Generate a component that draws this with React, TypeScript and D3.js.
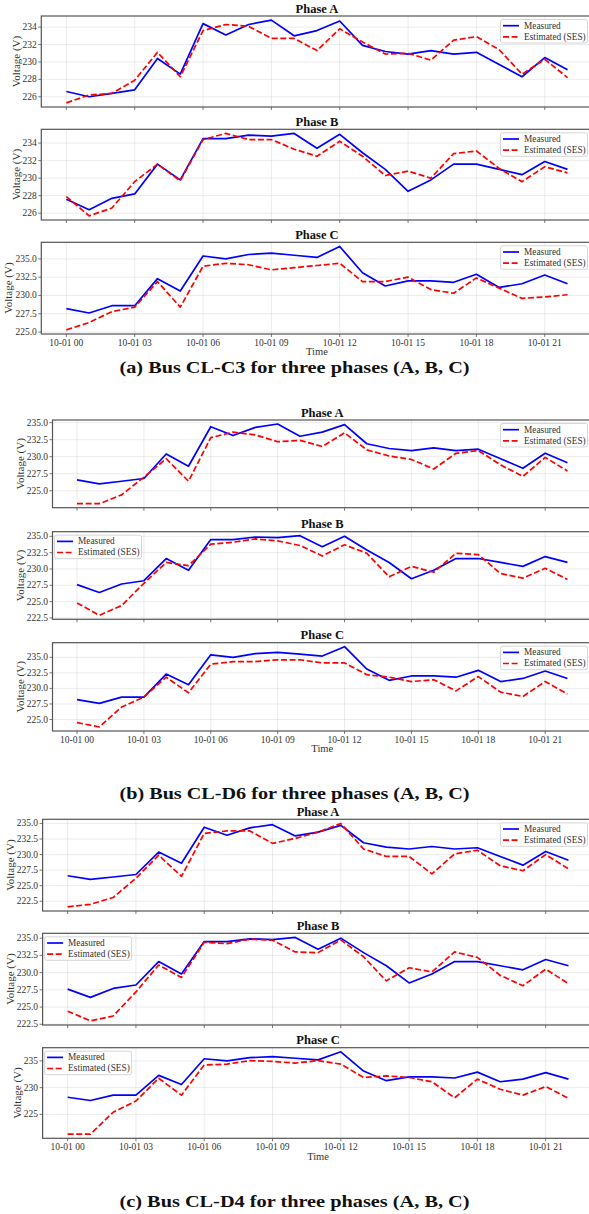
import React from 'react';
import * as d3 from 'd3';

// hourly samples on 10-01
const hours = [0, 1, 2, 3, 4, 5, 6, 7, 8, 9, 10, 11, 12, 13, 14, 15, 16, 17, 18, 19, 20, 21, 22];
const xTickHours = [0, 3, 6, 9, 12, 15, 18, 21];
const xTickLabels = ['10-01 00', '10-01 03', '10-01 06', '10-01 09', '10-01 12', '10-01 15', '10-01 18', '10-01 21'];

// measured voltage, same for all buses
const measuredA = [226.6, 226.0, 226.4, 226.8, 230.4, 228.6, 234.4, 233.1, 234.3, 234.8, 233.0, 233.6, 234.7, 231.9, 231.2, 230.9, 231.3, 230.9, 231.1, 229.7, 228.3, 230.5, 229.1];
const measuredB = [227.6, 226.4, 227.7, 228.2, 231.6, 229.8, 234.5, 234.5, 234.9, 234.8, 235.1, 233.4, 235.0, 232.9, 231.0, 228.5, 229.8, 231.6, 231.6, 231.0, 230.4, 231.9, 231.0];
const measuredC = [228.2, 227.6, 228.6, 228.6, 232.3, 230.6, 235.4, 235.0, 235.6, 235.8, 235.5, 235.2, 236.7, 233.1, 231.3, 232.0, 232.0, 231.8, 232.9, 231.1, 231.6, 232.8, 231.6];

// SES estimates per bus
const sesC3A = [225.3, 226.2, 226.4, 227.9, 231.1, 228.3, 233.6, 234.3, 234.1, 232.7, 232.7, 231.3, 233.8, 232.3, 230.9, 231.0, 230.2, 232.5, 232.9, 231.4, 228.6, 230.3, 228.2];
const sesC3B = [227.9, 225.7, 226.6, 229.6, 231.6, 229.7, 234.4, 235.1, 234.4, 234.4, 233.3, 232.5, 234.2, 232.5, 230.3, 230.8, 230.0, 232.8, 233.1, 231.1, 229.6, 231.3, 230.6];
const sesC3C = [225.3, 226.3, 227.8, 228.4, 231.9, 228.4, 234.0, 234.4, 234.2, 233.5, 233.8, 234.1, 234.4, 231.9, 231.9, 232.5, 230.8, 230.3, 232.4, 231.0, 229.6, 229.8, 230.1];

const sesD6A = [223.1, 223.1, 224.4, 227.0, 229.7, 226.4, 232.8, 233.6, 233.2, 232.2, 232.4, 231.5, 233.5, 231.0, 230.1, 229.6, 228.2, 230.5, 230.9, 228.8, 227.1, 229.9, 227.9];
const sesD6B = [224.8, 222.9, 224.4, 227.8, 231.0, 230.5, 233.8, 234.1, 234.6, 234.3, 233.6, 232.0, 233.7, 232.4, 228.8, 230.4, 229.5, 232.4, 232.2, 229.3, 228.6, 230.1, 228.4];
const sesD6C = [224.5, 223.8, 227.0, 228.6, 231.8, 229.3, 233.9, 234.3, 234.3, 234.6, 234.6, 234.1, 234.1, 232.2, 231.8, 231.1, 231.4, 229.6, 231.9, 229.4, 228.7, 231.1, 229.1];

const sesD4A = [221.6, 222.0, 223.1, 226.2, 229.9, 226.5, 233.4, 233.8, 233.8, 231.8, 232.6, 233.6, 235.0, 230.9, 229.7, 229.7, 226.9, 230.1, 230.7, 228.2, 227.4, 230.0, 227.7];
const sesD4B = [224.4, 223.0, 223.7, 227.2, 231.1, 229.3, 234.4, 234.2, 234.85, 234.7, 233.0, 232.9, 234.75, 232.3, 228.8, 230.7, 230.1, 233.0, 232.2, 229.6, 228.1, 230.5, 228.4];
const sesD4C = [221.3, 221.3, 225.4, 227.5, 231.75, 228.6, 234.25, 234.4, 235.05, 234.9, 234.6, 235.05, 234.4, 231.9, 232.2, 231.9, 231.1, 228.1, 231.6, 229.7, 228.6, 230.2, 228.0];

const phaseNames = ['Phase A', 'Phase B', 'Phase C'];
const captions = [
  '(a) Bus CL-C3 for three phases (A, B, C)',
  '(b) Bus CL-D6 for three phases (A, B, C)',
  '(c) Bus CL-D4 for three phases (A, B, C)'
];
const seriesNames = ['Measured', 'Estimated (SES)'];
const yTickSteps = [[2, 2, 2.5], [2.5, 2.5, 2.5], [2.5, 2.5, 5]];
const legendSides = [['right', 'right', 'right'], ['right', 'left', 'right'], ['right', 'left', 'left']];

const measured = [measuredA, measuredB, measuredC];
const estimates = [
  [sesC3A, sesC3B, sesC3C],
  [sesD6A, sesD6B, sesD6C],
  [sesD4A, sesD4B, sesD4C]
];

const FONT = '"Liberation Serif", "Times New Roman", serif';

// layout of each figure block
const figures = [
  { left: 41.3, right: 592.6, tops: [16, 129.3, 242.3], bottoms: [107, 220, 334], timeY: 355, captionY: 373 },
  { left: 52.5, right: 592, tops: [420, 531.7, 642.7], bottoms: [507.7, 619.3, 731], timeY: 752, captionY: 799 },
  { left: 42.6, right: 593.5, tops: [819.3, 933.3, 1047.7], bottoms: [911, 1025, 1138.3], timeY: 1160, captionY: 1207 }
];

function Panel({ fig, p, showX }) {
  const layout = figures[fig];
  const { left, right } = layout;
  const top = layout.tops[p];
  const bottom = layout.bottoms[p];
  const meas = measured[p];
  const est = estimates[fig][p];

  const x = d3.scaleLinear().domain([-1.1, 23.1]).range([left, right]);
  const lo = d3.min([...meas, ...est]);
  const hi = d3.max([...meas, ...est]);
  const pad = (hi - lo) * 0.05;
  const y = d3.scaleLinear().domain([lo - pad, hi + pad]).range([bottom, top]);

  const step = yTickSteps[fig][p];
  const fmt = step % 1 === 0 ? d3.format('d') : d3.format('.1f');
  const yTicks = d3.range(Math.ceil((lo - pad) / step) * step, hi + pad + 1e-9, step);
  const labelW = d3.max(yTicks.map(t => {
    const s = fmt(t);
    return s.replace('.', '').length * 4.75 + (s.includes('.') ? 2.4 : 0);
  }));

  const line = d3.line().x((d, i) => x(hours[i])).y(d => y(d));

  const lw = 87, lh = 23.5;
  const lx = legendSides[fig][p] === 'right' ? Math.min(right, 589) - lw - 1.5 : left + 2;
  const ly = top + 3.5;

  return (
    <g>
      {xTickHours.map(h => (
        <line key={'gx' + h} x1={x(h)} x2={x(h)} y1={top} y2={bottom} stroke="#b0b0b0" strokeOpacity={0.35} strokeWidth={0.7} />
      ))}
      {yTicks.map(t => (
        <line key={'gy' + t} x1={left} x2={right} y1={y(t)} y2={y(t)} stroke="#b0b0b0" strokeOpacity={0.35} strokeWidth={0.7} />
      ))}
      <path d={line(meas)} fill="none" stroke="#0000ff" strokeWidth={1.7} strokeLinejoin="round" />
      <path d={line(est)} fill="none" stroke="#ff0000" strokeWidth={1.7} strokeDasharray="6,2.6" strokeLinejoin="round" />
      <rect x={left} y={top} width={right - left} height={bottom - top} fill="none" stroke="#555" strokeWidth={1.2} />
      {yTicks.map(t => (
        <g key={'ty' + t}>
          <line x1={left - 3} x2={left} y1={y(t)} y2={y(t)} stroke="#555" strokeWidth={0.8} />
          <text x={left - 4.5} y={y(t)} textAnchor="end" dominantBaseline="central" fontSize={9.5} fill="#333" fontFamily={FONT}>
            {fmt(t)}
          </text>
        </g>
      ))}
      {xTickHours.map((h, i) => (
        <g key={'tx' + h}>
          <line x1={x(h)} x2={x(h)} y1={bottom} y2={bottom + 3} stroke="#555" strokeWidth={0.8} />
          {showX && (
            <text x={x(h)} y={bottom + 12} textAnchor="middle" fontSize={9.5} fill="#333" fontFamily={FONT}>
              {xTickLabels[i]}
            </text>
          )}
        </g>
      ))}
      <text
        transform={`translate(${left - 11.5 - labelW},${(top + bottom) / 2}) rotate(-90)`}
        textAnchor="middle"
        dominantBaseline="central"
        fontSize={11}
        fill="#333"
        fontFamily={FONT}
      >
        Voltage (V)
      </text>
      <text x={(left + right) / 2} y={top - 3.5} textAnchor="middle" fontSize={12.5} fontWeight="bold" fill="#111" fontFamily={FONT}>
        {phaseNames[p]}
      </text>
      <g transform={`translate(${lx},${ly})`}>
        <rect width={lw} height={lh} rx={2} fill="#fff" fillOpacity={0.85} stroke="#ccc" strokeWidth={0.8} />
        <line x1={2.5} x2={18.5} y1={6.2} y2={6.2} stroke="#0000ff" strokeWidth={1.7} />
        <text x={23.5} y={6.2} dominantBaseline="central" fontSize={9.3} fill="#333" fontFamily={FONT}>{seriesNames[0]}</text>
        <line x1={2.5} x2={18.5} y1={17.3} y2={17.3} stroke="#ff0000" strokeWidth={1.7} strokeDasharray="6,2.6" />
        <text x={23.5} y={17.3} dominantBaseline="central" fontSize={9.3} fill="#333" fontFamily={FONT}>{seriesNames[1]}</text>
      </g>
    </g>
  );
}

export default function App() {
  return (
    <svg width={589} height={1214} style={{ position: 'absolute', left: 0, top: 0, background: '#fff' }}>
      <rect width={589} height={1214} fill="#fff" />
      {figures.map((f, fi) => (
        <g key={fi}>
          {[0, 1, 2].map(p => (
            <Panel key={p} fig={fi} p={p} showX={p === 2} />
          ))}
          <text x={(f.left + f.right) / 2} y={f.timeY} textAnchor="middle" fontSize={10.5} fill="#333" fontFamily={FONT}>
            Time
          </text>
          <text
            x={294.5}
            y={f.captionY}
            textAnchor="middle"
            fontSize={17}
            fontWeight="bold"
            fill="#111"
            fontFamily={FONT}
            textLength={350}
            lengthAdjust="spacingAndGlyphs"
          >
            {captions[fi]}
          </text>
        </g>
      ))}
    </svg>
  );
}
